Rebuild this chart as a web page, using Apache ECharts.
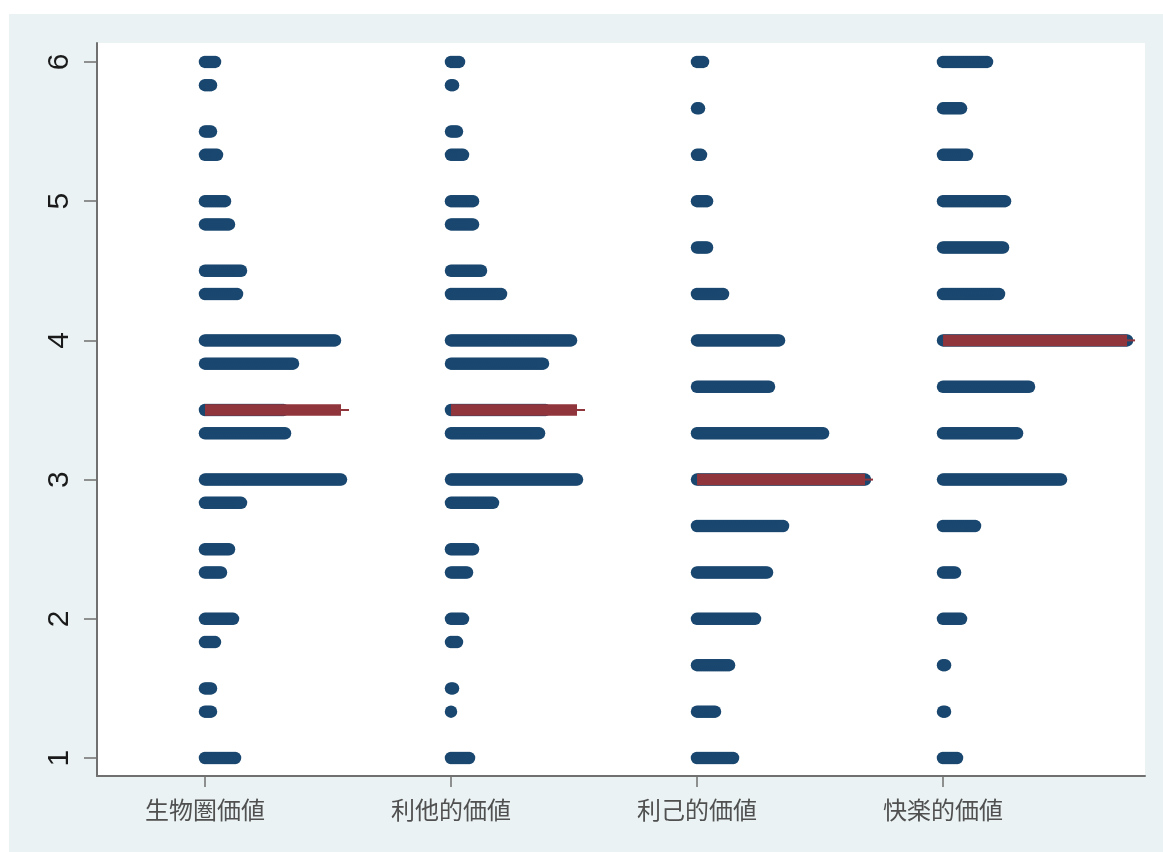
<!DOCTYPE html>
<html>
<head>
<meta charset="utf-8">
<script src="https://cdn.jsdelivr.net/npm/echarts@6/dist/echarts.min.js"></script>
<style>
  html, body { margin: 0; padding: 0; background: #ffffff; }
  #chart { position: absolute; left: 0; top: 0; width: 1163px; height: 852px; }
</style>
</head>
<body>
<div id="chart"></div>
<script>
// Value groups shown along the horizontal axis
const categories = ['生物圏価値', '利他的価値', '利己的価値', '快楽的価値'];

// Score levels (means of item ratings) and how many respondents sit at each level
const biosphericLevels = [1, 1.333, 1.5, 1.833, 2, 2.333, 2.5, 2.833, 3, 3.333, 3.5, 3.833, 4, 4.333, 4.5, 4.833, 5, 5.333, 5.5, 5.833, 6];
const biosphericCounts = [16, 4, 4, 6, 15, 9, 13, 19, 69, 41, 40, 45, 66, 17, 19, 13, 11, 7, 4, 4, 6];

const altruisticLevels = [1, 1.333, 1.5, 1.833, 2, 2.333, 2.5, 2.833, 3, 3.333, 3.5, 3.833, 4, 4.333, 4.5, 4.833, 5, 5.333, 5.5, 5.833, 6];
const altruisticCounts = [10, 1, 2, 4, 7, 9, 12, 22, 64, 45, 48, 47, 61, 26, 16, 12, 12, 7, 4, 2, 5];

const egoisticLevels = [1, 1.333, 1.667, 2, 2.333, 2.667, 3, 3.333, 3.667, 4, 4.333, 4.667, 5, 5.333, 5.667, 6];
const egoisticCounts = [19, 10, 17, 30, 36, 44, 85, 64, 37, 42, 14, 6, 6, 3, 2, 4];

const hedonicLevels = [1, 1.333, 1.667, 2, 2.333, 2.667, 3, 3.333, 3.667, 4, 4.333, 4.667, 5, 5.333, 5.667, 6];
const hedonicCounts = [8, 2, 2, 10, 7, 17, 60, 38, 44, 93, 29, 31, 32, 13, 10, 23];

// Vertical axis tick labels
const yTicks = [1, 2, 3, 4, 5, 6];

const groups = [
  { levels: biosphericLevels, counts: biosphericCounts },
  { levels: altruisticLevels, counts: altruisticCounts },
  { levels: egoisticLevels, counts: egoisticCounts },
  { levels: hedonicLevels, counts: hedonicCounts }
];

// Horizontal offset between stacked dots, in axis units
const DOT_STEP = 2 / 246;

const NAVY = '#1a476f';
const MAROON = '#90353b';

function median(levels, counts) {
  const n = counts.reduce((a, b) => a + b, 0);
  const target = Math.ceil(n / 2);
  let cum = 0;
  for (let i = 0; i < levels.length; i++) {
    cum += counts[i];
    if (cum >= target) return levels[i];
  }
  return levels[levels.length - 1];
}

// One dot per respondent, stacked rightward from the group position
const dots = [];
groups.forEach((g, gi) => {
  const base = gi + 1;
  g.levels.forEach((lv, li) => {
    for (let k = 0; k < g.counts[li]; k++) {
      dots.push([base + k * DOT_STEP, lv]);
    }
  });
});

const series = [{
  type: 'scatter',
  data: dots,
  symbol: 'circle',
  symbolSize: 12.5,
  itemStyle: { color: NAVY, opacity: 1 },
  silent: true,
  z: 2
}];

// Median line for each group, as wide as the group's longest row
groups.forEach((g, gi) => {
  const base = gi + 1;
  const med = median(g.levels, g.counts);
  const maxCount = Math.max(...g.counts);
  const end = base + (maxCount - 1) * DOT_STEP;
  series.push({
    type: 'line',
    data: [[base, med], [end, med]],
    symbol: 'none',
    lineStyle: { color: MAROON, width: 11.5, cap: 'butt' },
    silent: true,
    z: 3
  });
  series.push({
    type: 'line',
    data: [[end, med], [end + 4 * DOT_STEP, med]],
    symbol: 'none',
    lineStyle: { color: MAROON, width: 2, cap: 'butt' },
    silent: true,
    z: 3
  });
});

const chart = echarts.init(document.getElementById('chart'), null, { renderer: 'canvas' });
chart.setOption({
  animation: false,
  backgroundColor: 'transparent',
  graphic: [{
    type: 'rect',
    left: 9, top: 14,
    shape: { width: 1154, height: 838 },
    style: { fill: '#eaf2f3' },
    z: -10,
    silent: true
  }],
  grid: {
    left: 97, right: 18, top: 43, bottom: 76,
    show: true, backgroundColor: '#ffffff', borderWidth: 0
  },
  xAxis: {
    type: 'value',
    min: 0.561, max: 4.821,
    axisLine: { show: true, lineStyle: { color: '#707070', width: 2 } },
    axisTick: { show: true, customValues: [1, 2, 3, 4], length: 11, lineStyle: { color: '#707070', width: 1.5 } },
    axisLabel: {
      customValues: [1, 2, 3, 4],
      formatter: v => categories[Math.round(v) - 1],
      margin: 22,
      fontSize: 24,
      color: '#505050',
      fontFamily: "'Noto Sans CJK JP', 'Noto Sans CJK SC', sans-serif"
    },
    splitLine: { show: false }
  },
  yAxis: {
    type: 'value',
    min: 0.871, max: 6.136,
    axisLine: { show: true, lineStyle: { color: '#707070', width: 2 } },
    axisTick: { show: true, customValues: yTicks, length: 13, lineStyle: { color: '#707070', width: 1.5 } },
    axisLabel: {
      customValues: yTicks,
      rotate: 90,
      margin: 22,
      fontSize: 30,
      color: '#1a1a1a',
      fontFamily: "'Liberation Sans Narrow', 'Liberation Sans', sans-serif"
    },
    splitLine: { show: false }
  },
  series: series
});
</script>
</body>
</html>
